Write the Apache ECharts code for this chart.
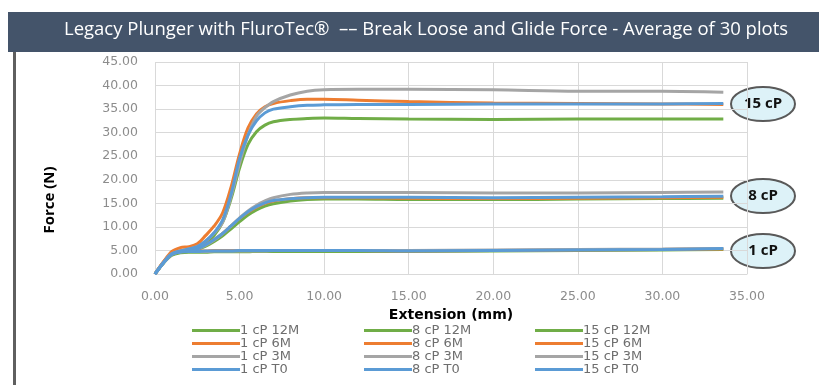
<!DOCTYPE html>
<html>
<head>
<meta charset="utf-8">
<script src="https://cdn.jsdelivr.net/npm/echarts@6/dist/echarts.min.js"></script>
<style>
html,body{margin:0;padding:0;background:#fff;}
#chart{width:819px;height:385px;}
</style>
</head>
<body>
<div id="chart"></div>
<script>
// ---- data ----
const titleText = "Legacy Plunger with FluroTec\u00AE  \u2013\u2013 Break Loose and Glide Force - Average of 30 plots";
const xTicks = [0, 5, 10, 15, 20, 25, 30, 35];
const extension = [0, 0.5, 1, 1.5, 2, 2.5, 3, 3.5, 4, 4.5, 5, 5.5, 6, 6.5, 7, 8, 9, 10, 12, 15, 20, 25, 30, 33.6];

const cp1_12M = [0, 2.3, 4.0, 4.5, 4.6, 4.6, 4.6, 4.7, 4.7, 4.7, 4.7, 4.7, 4.8, 4.8, 4.8, 4.8, 4.8, 4.8, 4.8, 4.8, 4.9, 5.0, 5.1, 5.2];
const cp1_6M  = [0, 2.5, 4.3, 4.8, 4.9, 4.9, 4.9, 5.0, 5.0, 5.0, 5.0, 5.0, 5.0, 5.0, 5.0, 5.0, 5.0, 5.0, 5.0, 4.9, 5.0, 5.1, 5.2, 5.3];
const cp1_3M  = [0, 2.4, 4.2, 4.7, 4.8, 4.8, 4.8, 4.9, 4.9, 4.9, 4.9, 4.9, 4.9, 4.9, 5.0, 5.0, 5.0, 5.0, 5.0, 5.0, 5.1, 5.2, 5.3, 5.4];
const cp1_T0  = [0, 2.4, 4.2, 4.7, 4.8, 4.8, 4.9, 4.9, 4.9, 4.9, 5.0, 5.0, 5.0, 5.0, 5.0, 5.0, 5.0, 5.0, 5.0, 4.9, 5.0, 5.1, 5.2, 5.4];

const cp8_12M = [0, 2.4, 4.2, 4.7, 4.9, 5.2, 5.9, 6.9, 8.1, 9.6, 11.1, 12.5, 13.6, 14.4, 14.9, 15.5, 15.8, 15.9, 15.9, 15.8, 15.8, 15.9, 16.0, 16.1];
const cp8_6M  = [0, 2.5, 4.4, 4.9, 5.1, 5.4, 6.2, 7.3, 8.6, 10.2, 11.8, 13.1, 14.2, 15.0, 15.5, 16.0, 16.2, 16.2, 16.2, 16.1, 16.0, 16.1, 16.2, 16.3];
const cp8_3M  = [0, 2.4, 4.2, 4.7, 4.9, 5.3, 6.1, 7.2, 8.6, 10.2, 11.9, 13.4, 14.6, 15.5, 16.2, 16.9, 17.2, 17.3, 17.3, 17.3, 17.2, 17.2, 17.3, 17.4];
const cp8_T0  = [0, 2.4, 4.2, 4.7, 4.9, 5.3, 6.2, 7.3, 8.6, 10.2, 11.8, 13.2, 14.3, 15.1, 15.6, 16.0, 16.2, 16.3, 16.3, 16.3, 16.2, 16.3, 16.4, 16.5];

const cp15_12M = [0, 2.4, 4.3, 4.9, 5.2, 5.6, 6.6, 8.2, 11.0, 16.0, 22.5, 27.5, 30.2, 31.6, 32.3, 32.8, 33.0, 33.1, 33.0, 32.9, 32.8, 32.9, 32.9, 32.9];
const cp15_6M  = [0, 2.6, 4.8, 5.6, 5.8, 6.4, 8.2, 10.2, 13.0, 18.5, 25.5, 31.0, 34.0, 35.5, 36.2, 36.8, 37.1, 37.1, 36.9, 36.6, 36.3, 36.2, 36.1, 36.0];
const cp15_3M  = [0, 2.4, 4.3, 4.9, 5.3, 5.8, 7.0, 8.7, 11.0, 16.5, 23.5, 29.5, 33.5, 35.3, 36.6, 38.0, 38.8, 39.1, 39.2, 39.2, 39.1, 38.8, 38.8, 38.6];
const cp15_T0  = [0, 2.4, 4.3, 4.9, 5.3, 5.8, 7.0, 8.8, 11.5, 17.0, 24.5, 29.5, 32.5, 34.2, 35.0, 35.5, 35.8, 35.9, 36.0, 36.0, 36.1, 36.1, 36.1, 36.2];

const legendCol1 = ['1 cP 12M', '1 cP 6M', '1 cP 3M', '1 cP T0'];
const legendCol2 = ['8 cP 12M', '8 cP 6M', '8 cP 3M', '8 cP T0'];
const legendCol3 = ['15 cP 12M', '15 cP 6M', '15 cP 3M', '15 cP T0'];
const calloutLabels = ['15 cP', '8 cP', '1 cP'];
const yTitle = 'Force (N)';
const xTitle = 'Extension (mm)';

// ---- build ----
const colors = { '12M': '#70AD47', '6M': '#ED7D31', '3M': '#A5A5A5', 'T0': '#5B9BD5' };
function pairs(ys) { return extension.map((x, i) => [x, ys[i]]); }
function mk(name, ys, age) {
  return {
    name: name, type: 'line', data: pairs(ys), smooth: 0.35, symbol: 'none',
    showSymbol: false,
    lineStyle: { width: 3, color: colors[age] }, itemStyle: { color: colors[age] }
  };
}
const series = [
  mk('1 cP 12M', cp1_12M, '12M'), mk('8 cP 12M', cp8_12M, '12M'), mk('15 cP 12M', cp15_12M, '12M'),
  mk('1 cP 6M', cp1_6M, '6M'), mk('8 cP 6M', cp8_6M, '6M'), mk('15 cP 6M', cp15_6M, '6M'),
  mk('1 cP 3M', cp1_3M, '3M'), mk('8 cP 3M', cp8_3M, '3M'), mk('15 cP 3M', cp15_3M, '3M'),
  mk('1 cP T0', cp1_T0, 'T0'), mk('8 cP T0', cp8_T0, 'T0'), mk('15 cP T0', cp15_T0, 'T0')
];

const tickFont = { fontFamily: 'DejaVu Sans', fontSize: 12.5, color: '#8C8C8C' };
function legendAt(data, left) {
  return {
    data: data, orient: 'vertical', left: left, top: 324, padding: 0,
    itemWidth: 48, itemHeight: 3, itemGap: 0, icon: 'rect',
    textStyle: { fontFamily: 'DejaVu Sans', fontSize: 13, lineHeight: 13, color: '#6E6E6E', padding: [0, 0, 0, -5] },
    selectedMode: false
  };
}
const calloutY = [104, 196, 251];

const chart = echarts.init(document.getElementById('chart'), null, { renderer: 'canvas' });
chart.setOption({
  backgroundColor: '#ffffff',
  animation: false,
  title: {
    text: titleText, left: 64, top: 20, padding: 0,
    textStyle: { fontFamily: 'Open Sans', fontWeight: 'normal', fontSize: 18.5, color: '#ffffff' }
  },
  grid: { left: 155, right: 72, top: 62, height: 212 },
  xAxis: {
    type: 'value', min: 0, max: 35, interval: 5,
    name: xTitle, nameLocation: 'middle', nameGap: 33,
    nameTextStyle: { fontFamily: 'DejaVu Sans', fontWeight: 'bold', fontSize: 14, color: '#000' },
    axisLine: { show: true, lineStyle: { color: '#D9D9D9' } },
    axisTick: { show: false },
    axisLabel: Object.assign({ margin: 16, formatter: v => v.toFixed(2) }, tickFont),
    splitLine: { show: true, lineStyle: { color: '#D9D9D9', width: 1 } }
  },
  yAxis: {
    type: 'value', min: 0, max: 45, interval: 5,
    axisLine: { show: false }, axisTick: { show: false },
    axisLabel: Object.assign({ margin: 17, formatter: v => v.toFixed(2) }, tickFont),
    splitLine: { show: true, lineStyle: { color: '#D9D9D9', width: 1 } }
  },
  legend: [legendAt(legendCol1, 192), legendAt(legendCol2, 364), legendAt(legendCol3, 535)],
  series: series,
  graphic: [
    { type: 'rect', shape: { x: 8, y: 12, width: 811, height: 40 }, style: { fill: '#44546A' }, z: -1 },
    { type: 'rect', shape: { x: 13, y: 52, width: 3, height: 333 }, style: { fill: '#5F5F5F' }, z: -1 },
    { type: 'text', x: 50, y: 200, rotation: Math.PI / 2,
      style: { text: yTitle, fontFamily: 'Open Sans', fontWeight: 'bold', fontSize: 15, fill: '#000',
               textAlign: 'center', textVerticalAlign: 'middle' } }
  ].concat(calloutLabels.map((t, i) => ({
    type: 'group', x: 763, y: calloutY[i],
    children: [
      { type: 'ellipse', shape: { cx: 0, cy: 0, rx: 32, ry: 17 },
        style: { fill: '#DDF2F8', stroke: '#595959', lineWidth: 2 } },
      { type: 'text', x: 0, y: 0,
        style: { text: t, fontFamily: 'Open Sans', fontWeight: 'bold', fontSize: 15, fill: '#111',
                 textAlign: 'center', textVerticalAlign: 'middle' } }
    ]
  })))
});
</script>
</body>
</html>
